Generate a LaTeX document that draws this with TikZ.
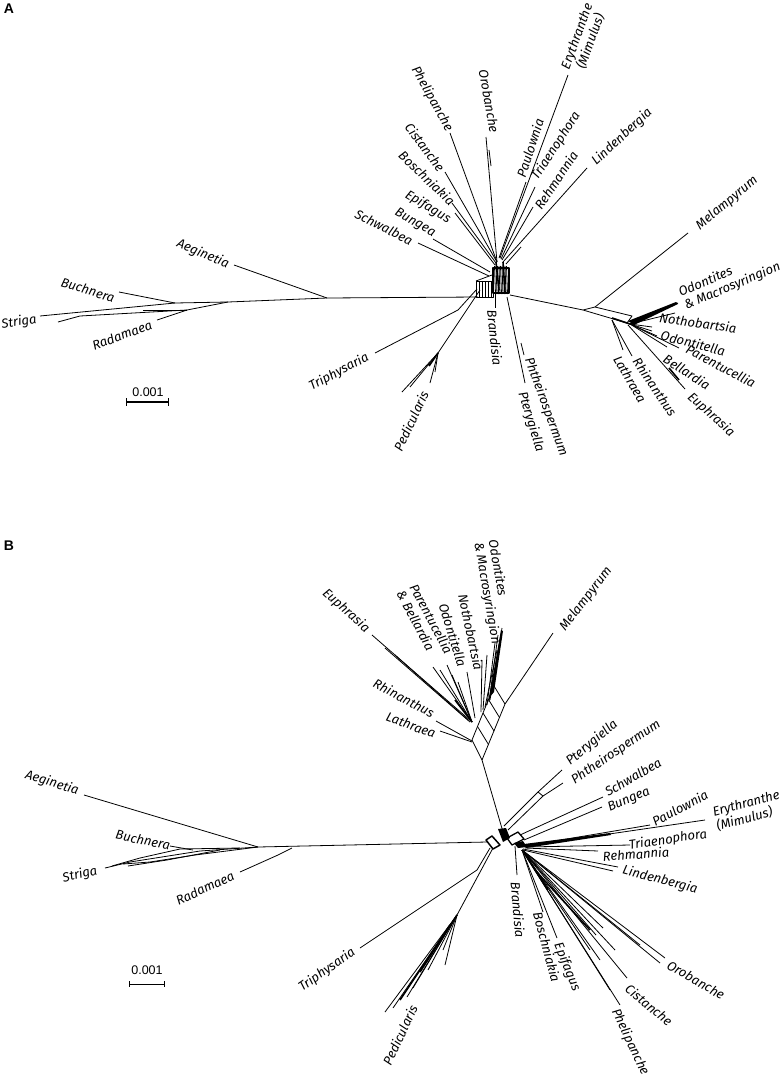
\documentclass[tikz,border=0pt]{standalone}
\usepackage{fontspec}
\newfontfamily\taxfont{Fira Sans}
\newfontfamily\barfont{Liberation Sans}
\tikzset{
    taxon/.style={font={\taxfont\itshape\fontsize{13}{14.5}\selectfont}, inner sep=0pt},
    panel/.style={font={\barfont\bfseries\fontsize{14}{16}\selectfont}, inner sep=0pt},
    scalebar/.style={font={\barfont\fontsize{12.5}{14}\selectfont}, inner sep=0pt},
    bundle/.style={line width=1.6pt},
}

\begin{document}
\begin{tikzpicture}[x=1pt, y=-1pt, line width=0.8pt, line join=round]
    \useasboundingbox (0,0) rectangle (784,1079);
    %%%%%%%%%%%%%%%%%%%%%%%%%%%%%%%%%%%%%%%% panel A
    \node[panel] (labA) at (9,9) {A};
    % core of the network
    \draw (476,281) rectangle (493,297);
    \foreach \x in {479,482,485,488,491} \draw (\x,282) -- (\x,297);
    \draw (476,281) -- (492,275);
    \draw[line width=1.2pt] (493,268) rectangle (509,293);
    \foreach \x in {494.5,496,...,507.5} \draw (\x,266) -- (\x+1,294);
    \draw[bundle] (496,262) -- (499,290) (503,262) -- (505,292);
    \coordinate (topA) at (497,262);
    \coordinate (aegA) at (327,298);
    \coordinate (rightA) at (630,324);
    % long branch to the left
    \draw (478,297) -- (aegA) -- (234,265);
    \draw (aegA) -- (228,302) -- (175,303) -- (40,316);
    \draw (228,302) -- (187,310) -- (80,316) -- (58,322);
    \draw (143,310) -- (187,310);
    \draw (175,303) -- (119,292);
    \draw (187,310) -- (157,320);
    % leaves above the core
    \draw (topA) -- (450,133);
    \draw (topA) -- (486,137);
    \draw (489,150) -- (491,166);
    \draw (topA) -- (445,172);
    \draw (496,263) -- (452,203);
    \draw (495,265) -- (455,213);
    \draw (490,272) -- (433,239);
    \draw (489,276) -- (418,243);
    \draw (499,258) -- (526,182);
    \draw (500,258) -- (568,75);
    \draw (501,259) -- (535,187);
    \draw (502,260) -- (533,207);
    \draw (503,262) -- (587,168);
    \draw (506,264) -- (521,247);
    % long branch to the right
    \draw (510,295) -- (583,310) -- (627,323) -- (632,316) -- (595,307) -- (583,310);
    \draw (595,307) -- (688,233);
    \draw[bundle] (612,318) -- (rightA);
    \fill (628,321) -- (676,302) -- (678,304) -- (634,325) -- cycle;
    \draw (rightA) -- (678,303);
    \draw (rightA) -- (675,313);
    \draw (rightA) -- (652,327);
    \draw (rightA) -- (652,331);
    \draw (rightA) -- (657,336);
    \draw (rightA) -- (679,348);
    \draw (rightA) -- (667,347);
    \draw (628,325) -- (685,389);
    \draw[bundle] (669,368) -- (679,380);
    \draw (612,320) -- (632,356);
    \draw (612,320) -- (623,350);
    % leaves below the core
    \draw (495,293) -- (495,308);
    \draw (507,297) -- (525,383);
    \draw (521,343) -- (524,355);
    \draw (477,289) -- (458,310) -- (375,353);
    \draw (480,290) -- (438,353);
    \draw[bundle] (438,353) -- (429,366);
    \foreach \tx/\ty in {402/392, 410/387, 430/383, 435/372}
        \draw (438,353) -- (\tx,\ty);
    % scale
    \draw[line width=1.3pt] (126,402) -- (168,402);
    \draw (126,398) -- (126,406) (168,398) -- (168,406);
    \node[scalebar] (barA) at (148,392) {0.001};
    % taxa
    \node[taxon, rotate=-61] (phelA) at (432,99) {Phelipanche};
    \node[taxon, rotate=-80] (oroA) at (489,101) {Orobanche};
    \node[taxon, rotate=-53] (cistA) at (425,147) {Cistanche};
    \node[taxon, rotate=-44] (boscA) at (427,178) {Boschniakia};
    \node[taxon, rotate=-31] (epifA) at (428,207) {Epifagus};
    \node[taxon, rotate=-30] (bungA) at (415,223) {Bungea};
    \node[taxon, rotate=-27] (schwA) at (384,227) {Schwalbea};
    \node[taxon, rotate=72] (paulA) at (530,148) {Paulownia};
    \node[taxon, rotate=70, align=center] (eryA) at (584,39) {Erythranthe\\(Mimulus)};
    \node[taxon, rotate=57] (triaA) at (556,146) {Triaenophora};
    \node[taxon, rotate=56] (rehmA) at (556,180) {Rehmannia};
    \node[taxon, rotate=43] (lindA) at (622,137) {Lindenbergia};
    \node[taxon, rotate=40] (melaA) at (727,203) {Melampyrum};
    \node[taxon, rotate=23, align=left, anchor=west] (odonA) at (682,300)
        {Odontites\\\& Macrosyringion};
    \node[taxon, rotate=-8] (nothA) at (698,323) {Nothobartsia};
    \node[taxon, rotate=-14] (odtlA) at (693,343) {Odontitella};
    \node[taxon, rotate=-28] (pareA) at (721,366) {Parentucellia};
    \node[taxon, rotate=-33] (bellA) at (687,372) {Bellardia};
    \node[taxon, rotate=-42] (euphA) at (711,415) {Euphrasia};
    \node[taxon, rotate=-56] (rhinA) at (655,387) {Rhinanthus};
    \node[taxon, rotate=-60] (lathA) at (630,379) {Lathraea};
    \node[taxon, rotate=-84] (brandA) at (495,338) {Brandisia};
    \node[taxon, rotate=-70] (phthA) at (546,407) {Phtheirospermum};
    \node[taxon, rotate=-73] (pteryA) at (531,422) {Pterygiella};
    \node[taxon, rotate=28] (triphA) at (339,372) {Triphysaria};
    \node[taxon, rotate=65] (pediA) at (411,421) {Pedicularis};
    \node[taxon, rotate=-23] (aegiA) at (203,254) {Aeginetia};
    \node[taxon, rotate=-17] (buchA) at (88,290) {Buchnera};
    \node[taxon, rotate=8] (strA) at (19,322) {Striga};
    \node[taxon, rotate=20] (radA) at (122,335) {Radamaea};
    %%%%%%%%%%%%%%%%%%%%%%%%%%%%%%%%%%%%%%%% panel B
    \node[panel] (labB) at (9,546) {B};
    % core of the network
    \draw[line width=1.5pt] (486,840) -- (492,836) -- (500,845) -- (493,849) -- cycle;
    \fill (498,829) -- (506,828) -- (510,838) -- (503,842) -- cycle;
    \draw[line width=1.3pt] (507,838) -- (518,832) -- (524,839) -- (512,845) -- cycle;
    \fill (514,843) -- (523,841) -- (527,847) -- (518,848) -- cycle;
    \coordinate (aegB) at (258,847);
    \coordinate (oroB) at (522,850);
    \coordinate (pedB) at (457,915);
    % long branch to the left
    \draw (487,842) -- (aegB) -- (84,795);
    \draw (aegB) -- (200,851) -- (130,862) -- (105,868);
    \draw (aegB) -- (195,855) -- (150,862) -- (123,864);
    \draw (240,848) -- (180,849) -- (140,858) -- (112,866);
    \draw (220,850) -- (167,860) -- (128,866);
    \draw (193,850) -- (170,846);
    \draw (292,848) -- (278,855) -- (240,872);
    % upper group
    \draw (503,832) -- (482,760) -- (472,740) -- (494,686);
    \draw (482,760) -- (505,704) -- (553,633);
    \foreach \t in {0.25,0.5,0.75}
        \draw ({472+22*\t},{740-54*\t}) -- ({483+22*\t},{758-54*\t});
    \draw (494,686) -- (505,704);
    \fill (489,698) -- (501,630) -- (503,631) -- (494,692) -- cycle;
    \draw (490,700) -- (502,628);
    \draw (489,702) -- (498,635);
    \draw (487,705) -- (495,643);
    \draw (485,707) -- (497,650);
    \draw (483,710) -- (487,655);
    \draw (481,712) -- (482,660);
    \draw (475,718) -- (467,672);
    \foreach \tx/\ty in {433/667, 440/670, 447/665, 452/675, 458/682}
        \draw (472,722) -- (\tx,\ty);
    \draw (472,722) -- (372,635);
    \draw (470,722) -- (385,648);
    \draw (468,720) -- (395,655);
    \draw[bundle] (472,722) -- (455,700);
    \draw (472,741) -- (436,721);
    \draw (472,742) -- (440,731);
    % leaves to the right
    \draw (504,826) -- (538,792) -- (562,770);
    \draw (508,830) -- (543,796) -- (563,783);
    \draw (538,792) -- (543,796);
    \draw (520,835) -- (603,797);
    \draw (524,840) -- (602,807);
    \draw (525,846) -- (650,825);
    \draw (527,846) -- (705,820);
    \fill (524,844) -- (610,833) -- (611,835) -- (526,848) -- cycle;
    \draw (525,847) -- (630,845);
    \draw (525,848) -- (598,851);
    \draw (523,849) -- (618,867);
    \draw (523,850) -- (613,871);
    % leaves below
    \draw (515,846) -- (517,875);
    \foreach \tx/\ty in {543/912, 557/938, 610/990, 620/1005, 627/978, 603/928,
        665/958, 660/963, 590/950, 600/960, 640/945, 596/935, 615/950}
        \draw (oroB) -- (\tx,\ty);
    \draw[bundle] (524,852) -- (548,890);
    \draw[bundle] (535,870) -- (590,930);
    \draw (490,848) -- (477,870) -- (360,948);
    \draw (493,848) -- (pedB);
    \foreach \tx/\ty in {385/1012, 393/1008, 407/997, 413/988, 428/970, 445/965, 443/950}
        \draw (pedB) -- (\tx,\ty);
    \draw[bundle] (pedB) -- (420,972);
    \draw[bundle] (450,925) -- (400,1000);
    % scale
    \draw (129,984) -- (164,984);
    \draw (129,981) -- (129,987) (164,981) -- (164,987);
    \node[scalebar] (barB) at (147,970) {0.001};
    % taxa
    \node[taxon, rotate=-17] (aegiB) at (52,783) {Aeginetia};
    \node[taxon, rotate=-12] (buchB) at (143,840) {Buchnera};
    \node[taxon, rotate=13] (strB) at (80,875) {Striga};
    \node[taxon, rotate=25] (radB) at (205,888) {Radamaea};
    \node[taxon, rotate=35] (triphB) at (327,970) {Triphysaria};
    \node[taxon, rotate=65] (pediB) at (400,1035) {Pedicularis};
    \node[taxon, rotate=-85] (brandB) at (518,910) {Brandisia};
    \node[taxon, rotate=-75] (boscB) at (547,947) {Boschniakia};
    \node[taxon, rotate=-68] (epifB) at (567,967) {Epifagus};
    \node[taxon, rotate=-65] (phelB) at (630,1042) {Phelipanche};
    \node[taxon, rotate=-40] (cistB) at (649,1005) {Cistanche};
    \node[taxon, rotate=-30] (oroBl) at (696,980) {Orobanche};
    \node[taxon, rotate=-15] (lindB) at (660,880) {Lindenbergia};
    \node[taxon, rotate=4] (rehmB) at (636,854) {Rehmannia};
    \node[taxon, rotate=8] (triaB) at (668,840) {Triaenophora};
    \node[taxon, rotate=15, align=left] (eryB) at (748,811) {Erythranthe\\(Mimulus)};
    \node[taxon, rotate=28] (paulB) at (680,808) {Paulownia};
    \node[taxon, rotate=23] (bungB) at (629,800) {Bungea};
    \node[taxon, rotate=30] (schwB) at (633,777) {Schwalbea};
    \node[taxon, rotate=34] (phthB) at (616,752) {Phtheirospermum};
    \node[taxon, rotate=40] (pteryB) at (592,743) {Pterygiella};
    \node[taxon, rotate=52] (melaB) at (586,599) {Melampyrum};
    \node[taxon, rotate=-80, align=left] (odonB) at (494,592) {Odontites\\\& Macrosyringion};
    \node[taxon, rotate=-78] (nothB) at (471,632) {Nothobartsia};
    \node[taxon, rotate=-73] (odtlB) at (453,635) {Odontitella};
    \node[taxon, rotate=-62, align=left] (pareB) at (425,622) {Parentucellia\\\& Bellardia};
    \node[taxon, rotate=-42] (euphB) at (346,611) {Euphrasia};
    \node[taxon, rotate=-28] (rhinB) at (404,698) {Rhinanthus};
    \node[taxon, rotate=-20] (lathB) at (411,725) {Lathraea};
\end{tikzpicture}
\end{document}
